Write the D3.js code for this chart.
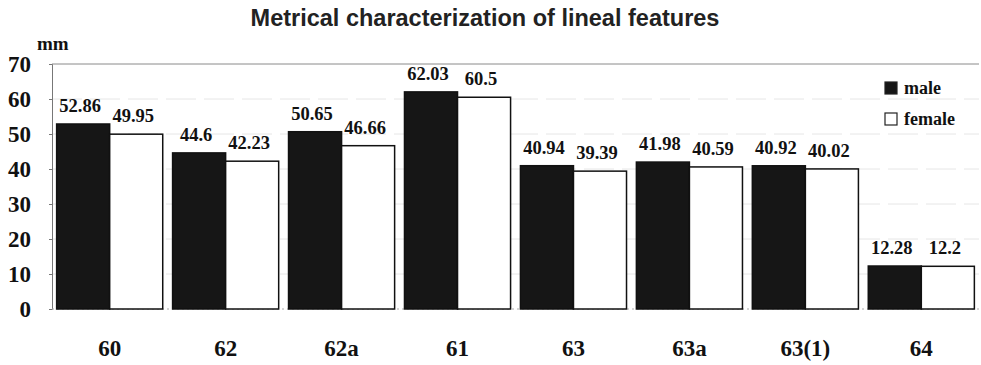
<!DOCTYPE html>
<html>
<head>
<meta charset="utf-8">
<script src="https://cdn.jsdelivr.net/npm/d3@7"></script>
<style>
  body { margin: 0; background: #fff; }
  .serif { font-family: "Liberation Serif", "Times New Roman", serif; font-weight: bold; }
</style>
</head>
<body>
<div id="chart"></div>
<script>
// data
var categories = ["60", "62", "62a", "61", "63", "63a", "63(1)", "64"];
var male = [52.86, 44.6, 50.65, 62.03, 40.94, 41.98, 40.92, 12.28];
var female = [49.95, 42.23, 46.66, 60.5, 39.39, 40.59, 40.02, 12.2];
var maleLabels = ["52.86", "44.6", "50.65", "62.03", "40.94", "41.98", "40.92", "12.28"];
var femaleLabels = ["49.95", "42.23", "46.66", "60.5", "39.39", "40.59", "40.02", "12.2"];
var yTicks = [0, 10, 20, 30, 40, 50, 60, 70];
var seriesNames = ["male", "female"];

var W = 981, H = 365;
var margin = {top: 64, right: 2, bottom: 56, left: 52};
var width = W - margin.left - margin.right,
    height = H - margin.top - margin.bottom;

var svg = d3.select("#chart")
  .append("svg")
    .attr("width", W)
    .attr("height", H);

svg.append("text")
  .attr("x", 485)
  .attr("y", 26)
  .attr("text-anchor", "middle")
  .attr("font-family", "Liberation Sans, Arial, sans-serif")
  .attr("font-weight", "bold")
  .attr("font-size", "23.5px")
  .attr("fill", "#222")
  .text("Metrical characterization of lineal features");

var g = svg.append("g")
  .attr("transform", "translate(" + margin.left + "," + margin.top + ")");

var y = d3.scaleLinear()
  .domain([0, 70])
  .range([height, 0]);

var x0 = d3.scaleBand()
  .domain(categories)
  .range([0, width])
  .paddingInner(0.085)
  .paddingOuter(0.04);

var x1 = d3.scaleBand()
  .domain(seriesNames)
  .range([0, x0.bandwidth()]);

// gridlines
g.selectAll(".grid")
  .data(yTicks.slice(1))
  .enter().append("line")
    .attr("x1", 0)
    .attr("x2", width)
    .attr("y1", function(d) { return y(d); })
    .attr("y2", function(d) { return y(d); })
    .attr("stroke", function(d) { return d === 70 ? "#8a8a8a" : "#e6e6e6"; })
    .attr("stroke-width", 1)
    .attr("stroke-dasharray", function(d) { return d === 70 ? null : "30,8"; });

// y axis
var yAxis = g.append("g")
  .call(d3.axisLeft(y).tickValues(yTicks).tickSize(3).tickPadding(18));
yAxis.select(".domain").attr("stroke", "#777");
yAxis.selectAll(".tick line").attr("stroke", "#777");
yAxis.selectAll("text")
  .attr("class", "serif")
  .attr("font-size", "23px")
  .attr("fill", "#111");

svg.append("text")
  .attr("class", "serif")
  .attr("x", 37)
  .attr("y", 50)
  .attr("font-size", "19px")
  .attr("fill", "#111")
  .text("mm");

// baseline
g.append("line")
  .attr("x1", 0).attr("x2", width)
  .attr("y1", height).attr("y2", height)
  .attr("stroke", "#aaa")
  .attr("stroke-dasharray", "2,3");

var rows = categories.map(function(c, i) {
  return {cat: c, vals: [
    {s: "male", v: male[i], label: maleLabels[i]},
    {s: "female", v: female[i], label: femaleLabels[i]}
  ]};
});

var groups = g.selectAll(".group")
  .data(rows)
  .enter().append("g")
    .attr("transform", function(d) { return "translate(" + x0(d.cat) + ",0)"; });

groups.selectAll("rect")
  .data(function(d) { return d.vals; })
  .enter().append("rect")
    .attr("x", function(d) { return x1(d.s); })
    .attr("y", function(d) { return y(d.v); })
    .attr("width", x1.bandwidth())
    .attr("height", function(d) { return height - y(d.v); })
    .attr("fill", function(d) { return d.s === "male" ? "#161616" : "#fff"; })
    .attr("stroke", "#111")
    .attr("stroke-width", 1.5);

groups.selectAll(".val")
  .data(function(d) { return d.vals; })
  .enter().append("text")
    .attr("class", "serif")
    .attr("x", function(d) { return x1(d.s) + x1.bandwidth() / 2 - 3; })
    .attr("y", function(d) { return y(d.v) - 12; })
    .attr("text-anchor", "middle")
    .attr("font-size", "18.5px")
    .attr("fill", "#111")
    .text(function(d) { return d.label; });

// x labels
g.selectAll(".xlab")
  .data(categories)
  .enter().append("text")
    .attr("class", "serif")
    .attr("x", function(d) { return x0(d) + x0.bandwidth() / 2; })
    .attr("y", height + 47)
    .attr("text-anchor", "middle")
    .attr("font-size", "23px")
    .attr("fill", "#111")
    .text(function(d) { return d; });

// legend
var legend = svg.append("g")
  .attr("transform", "translate(885,82)");
seriesNames.forEach(function(s, i) {
  legend.append("rect")
    .attr("x", 0)
    .attr("y", i * 31)
    .attr("width", 12)
    .attr("height", 12)
    .attr("fill", s === "male" ? "#161616" : "#fff")
    .attr("stroke", "#222")
    .attr("stroke-width", 1.2);
  legend.append("text")
    .attr("class", "serif")
    .attr("x", 19)
    .attr("y", i * 31 + 12)
    .attr("font-size", "18px")
    .attr("fill", "#111")
    .text(s);
});
</script>
</body>
</html>
